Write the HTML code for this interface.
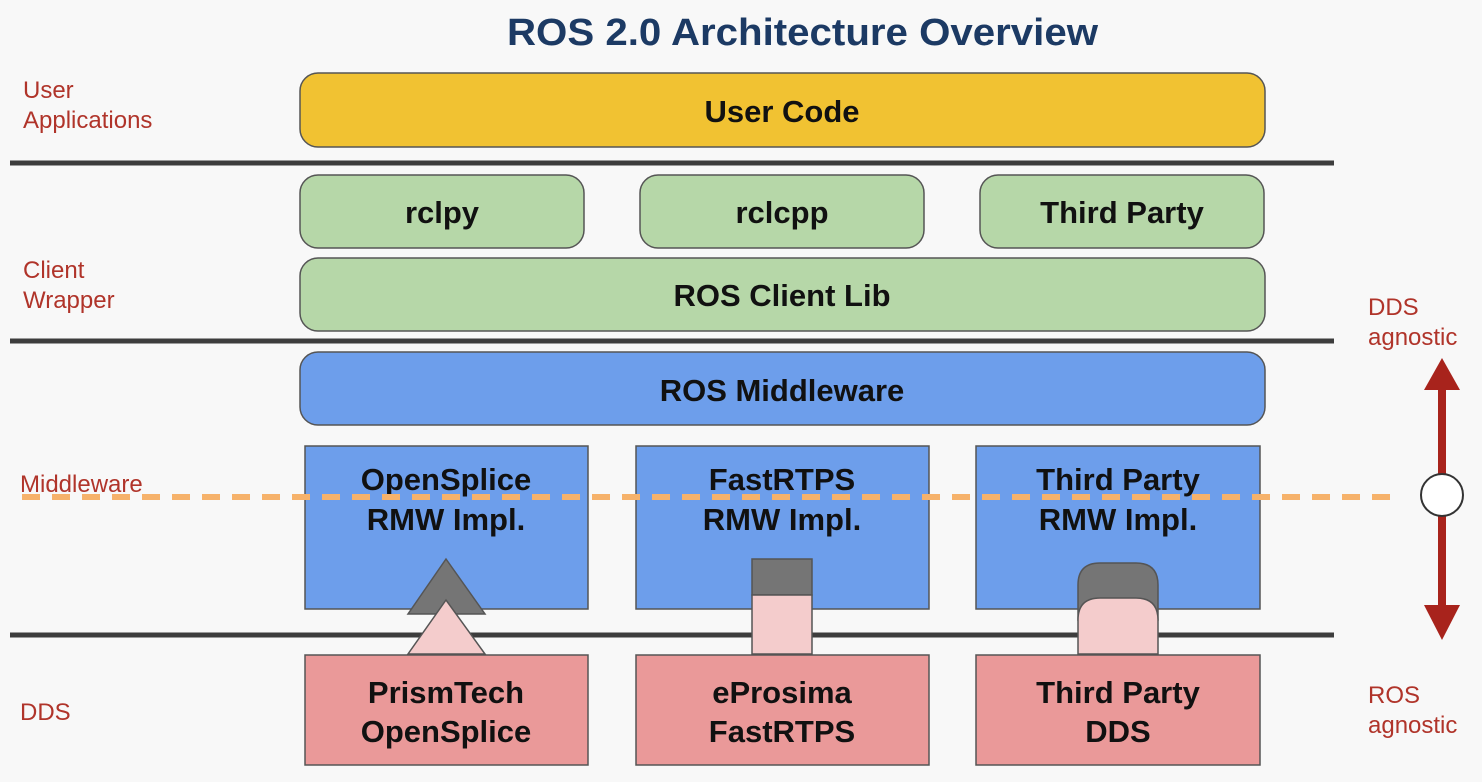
<!DOCTYPE html>
<html><head><meta charset="utf-8"><style>
html,body{margin:0;padding:0;background:#f8f8f8;}
svg{display:block;}
text{font-family:"Liberation Sans",Arial,sans-serif;}
</style></head><body>
<svg width="1482" height="782" viewBox="0 0 1482 782" xmlns="http://www.w3.org/2000/svg">
<rect width="1482" height="782" fill="#f8f8f8"/>
<text x="507" y="45" textLength="591" lengthAdjust="spacingAndGlyphs" font-size="38" font-weight="bold" fill="#1c3a64">ROS 2.0 Architecture Overview</text>
<g fill="#b0342a" font-size="24">
<text x="23" y="98">User</text><text x="23" y="128">Applications</text>
<text x="23" y="278">Client</text><text x="23" y="308">Wrapper</text>
<text x="20" y="492">Middleware</text>
<text x="20" y="720">DDS</text>
<text x="1368" y="315">DDS</text><text x="1368" y="345">agnostic</text>
<text x="1368" y="703">ROS</text><text x="1368" y="733">agnostic</text>
</g>
<g stroke="#3d3d3d" stroke-width="5">
<line x1="10" y1="163" x2="1334" y2="163"/>
<line x1="10" y1="341" x2="1334" y2="341"/>
<line x1="10" y1="635" x2="1334" y2="635"/>
</g>
<g stroke="#555" stroke-width="1.5">
<rect x="300" y="73" width="965" height="74" rx="18" fill="#f1c232"/>
<rect x="300" y="175" width="284" height="73" rx="18" fill="#b6d7a8"/>
<rect x="640" y="175" width="284" height="73" rx="18" fill="#b6d7a8"/>
<rect x="980" y="175" width="284" height="73" rx="18" fill="#b6d7a8"/>
<rect x="300" y="258" width="965" height="73" rx="18" fill="#b6d7a8"/>
<rect x="300" y="352" width="965" height="73" rx="18" fill="#6d9eeb"/>
<rect x="305" y="446" width="283" height="163" fill="#6d9eeb"/>
<rect x="636" y="446" width="293" height="163" fill="#6d9eeb"/>
<rect x="976" y="446" width="284" height="163" fill="#6d9eeb"/>
<rect x="305" y="655" width="283" height="110" fill="#ea9999"/>
<rect x="636" y="655" width="293" height="110" fill="#ea9999"/>
<rect x="976" y="655" width="284" height="110" fill="#ea9999"/>
<polygon points="446,559 408,614 485,614" fill="#757575"/>
<polygon points="446,600 408,654 485,654" fill="#f4cccc"/>
<rect x="752" y="559" width="60" height="36" fill="#757575"/>
<rect x="752" y="595" width="60" height="59" fill="#f4cccc"/>
<path d="M1078,620 V585 Q1078,563 1100,563 H1136 Q1158,563 1158,585 V620 Z" fill="#757575"/>
<path d="M1078,654 V620 Q1078,598 1100,598 H1136 Q1158,598 1158,620 V654 Z" fill="#f4cccc"/>
</g>
<g font-size="31" font-weight="bold" fill="#111" text-anchor="middle">
<text x="782" y="122">User Code</text>
<text x="442" y="223">rclpy</text>
<text x="782" y="223">rclcpp</text>
<text x="1122" y="223">Third Party</text>
<text x="782" y="306">ROS Client Lib</text>
<text x="782" y="401">ROS Middleware</text>
<text x="446" y="490">OpenSplice</text><text x="446" y="530">RMW Impl.</text>
<text x="782" y="490">FastRTPS</text><text x="782" y="530">RMW Impl.</text>
<text x="1118" y="490">Third Party</text><text x="1118" y="530">RMW Impl.</text>
<text x="446" y="703">PrismTech</text><text x="446" y="742">OpenSplice</text>
<text x="782" y="703">eProsima</text><text x="782" y="742">FastRTPS</text>
<text x="1118" y="703">Third Party</text><text x="1118" y="742">DDS</text>
</g>
<line x1="22" y1="497" x2="1400" y2="497" stroke="#f6b26b" stroke-width="6" stroke-dasharray="18 12"/>
<g fill="#a8231c" stroke="none">
<rect x="1438" y="385" width="8" height="230"/>
<polygon points="1442,358 1424,390 1460,390"/>
<polygon points="1442,640 1424,605 1460,605"/>
</g>
<circle cx="1442" cy="495" r="21" fill="#fff" stroke="#333" stroke-width="2"/>
</svg>
</body></html>
